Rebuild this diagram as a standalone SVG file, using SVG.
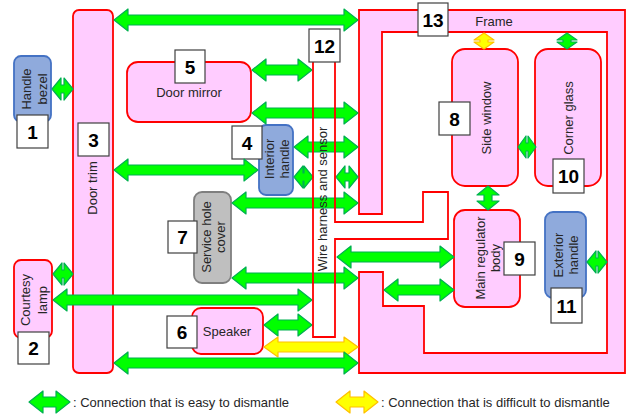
<svg xmlns="http://www.w3.org/2000/svg" width="627" height="416" viewBox="0 0 627 416">
<style>
.pk{fill:#FFCCFF;stroke:#FF0000;stroke-width:1.8}
.bl{fill:#8FAADC;stroke:#4472C4;stroke-width:1.8}
.gy{fill:#BFBFBF;stroke:#7F7F7F;stroke-width:1.8}
.wh{fill:none;stroke:#FF0000;stroke-width:1.8}
.nb{fill:#FFFFFF;stroke:#404040;stroke-width:1.2}
.nt{font-family:"Liberation Sans",Arial,sans-serif;font-size:19px;font-weight:bold;fill:#000;text-anchor:middle}
.lb{font-family:"Liberation Sans",Arial,sans-serif;font-size:13px;fill:#262626;text-anchor:middle}
.lg{font-family:"Liberation Sans",Arial,sans-serif;font-size:13px;fill:#262626}
.ea{fill:#00FF00;stroke:#00B050;stroke-width:1.2;stroke-linejoin:round}
.hd{fill:#FFFF00;stroke:#FFC000;stroke-width:1.2;stroke-linejoin:round}
</style>
<rect width="627" height="416" fill="#FFFFFF"/>

<g id="n13-frame">
<polygon class="pk" points="359,10 625,10 625,373 359,373 359,272 383,272 383,306 424,306 424,353 607,353 607,32 382,32 382,214 359,214"/>
<text class="lb" x="494" y="26">Frame</text>
<rect class="nb" x="418" y="3" width="30" height="33"/>
<text class="nt" x="433" y="26.5">13</text>
</g>

<g id="n3-door-trim">
<rect class="pk" x="73" y="10" width="40" height="363" rx="6"/>
<text class="lb" x="97" y="188" transform="rotate(-90 97 188)">Door trim</text>
<rect class="nb" x="78" y="123" width="31" height="33"/>
<text class="nt" x="93.5" y="146.5">3</text>
</g>

<g id="n1-handle-bezel">
<rect class="bl" x="14" y="56" width="37" height="66" rx="7"/>
<text class="lb" x="31" y="89" transform="rotate(-90 31 89)">Handle</text>
<text class="lb" x="47" y="89" transform="rotate(-90 47 89)">bezel</text>
<rect class="nb" x="17" y="115" width="31" height="33"/>
<text class="nt" x="32.5" y="138.5">1</text>
</g>

<g id="n2-courtesy-lamp">
<rect class="pk" x="14" y="260" width="38" height="78" rx="7"/>
<text class="lb" x="30" y="300" transform="rotate(-90 30 300)">Courtesy</text>
<text class="lb" x="47" y="300" transform="rotate(-90 47 300)">lamp</text>
<rect class="nb" x="18" y="332" width="31" height="32"/>
<text class="nt" x="33.5" y="355">2</text>
</g>

<g id="n5-door-mirror">
<rect class="pk" x="127" y="62" width="124" height="60" rx="11"/>
<text class="lb" x="189" y="96.5">Door mirror</text>
<rect class="nb" x="175" y="50" width="30" height="33"/>
<text class="nt" x="190" y="73.5">5</text>
</g>

<g id="n4-interior-handle">
<rect class="bl" x="259" y="125" width="34" height="70" rx="7"/>
<text class="lb" x="273.5" y="159" transform="rotate(-90 273.5 159)">Interior</text>
<text class="lb" x="289" y="159" transform="rotate(-90 289 159)">handle</text>
<rect class="nb" x="232" y="126" width="30" height="33"/>
<text class="nt" x="247" y="149.5">4</text>
</g>

<g id="n7-service-hole-cover">
<rect class="gy" x="194" y="192" width="37" height="91" rx="8"/>
<text class="lb" x="210.5" y="237" transform="rotate(-90 210.5 237)">Service hole</text>
<text class="lb" x="225" y="237" transform="rotate(-90 225 237)">cover</text>
<rect class="nb" x="168" y="221" width="29" height="32"/>
<text class="nt" x="182.5" y="244">7</text>
</g>

<g id="n6-speaker">
<rect class="pk" x="192" y="308" width="71" height="46" rx="9"/>
<text class="lb" x="227" y="335.5">Speaker</text>
<rect class="nb" x="167" y="316" width="30" height="32"/>
<text class="nt" x="182" y="339">6</text>
</g>

<g id="n8-side-window">
<rect class="pk" x="452" y="49" width="66" height="137" rx="13"/>
<text class="lb" x="491" y="118" transform="rotate(-90 491 118)">Side window</text>
<rect class="nb" x="439" y="102" width="31" height="33"/>
<text class="nt" x="454.5" y="125.5">8</text>
</g>

<g id="n10-corner-glass">
<rect class="pk" x="535" y="49" width="66" height="137" rx="13"/>
<text class="lb" x="573" y="118" transform="rotate(-90 573 118)">Corner glass</text>
<rect class="nb" x="553" y="159" width="31" height="34"/>
<text class="nt" x="568.5" y="183">10</text>
</g>

<g id="n9-main-regulator-body">
<rect class="pk" x="454" y="210" width="66" height="97" rx="11"/>
<text class="lb" x="485" y="258" transform="rotate(-90 485 258)">Main regulator</text>
<text class="lb" x="499.5" y="258" transform="rotate(-90 499.5 258)">body</text>
<rect class="nb" x="504" y="242" width="31" height="33"/>
<text class="nt" x="519.5" y="265.5">9</text>
</g>

<g id="n11-exterior-handle">
<rect class="bl" x="545" y="212" width="41" height="86" rx="8"/>
<text class="lb" x="563" y="255" transform="rotate(-90 563 255)">Exterior</text>
<text class="lb" x="578" y="255" transform="rotate(-90 578 255)">handle</text>
<rect class="nb" x="551" y="288" width="31" height="35"/>
<text class="nt" x="566.5" y="312.5">11</text>
</g>

<g id="connectors">
<polygon class="ea" points="114,20 128,9 128,15 344,15 344,9 358,20 344,31 344,25 128,25 128,31"/>
<polygon class="ea" points="52,89 61,78 61,85 64,85 64,78 73,89 64,100 64,93 61,93 61,100"/>
<polygon class="ea" points="252,70 266,59 266,65 298,65 298,59 312,70 298,81 298,75 266,75 266,81"/>
<polygon class="ea" points="252,113 266,102 266,108 344,108 344,102 358,113 344,124 344,118 266,118 266,124"/>
<polygon class="ea" points="114,170 128,159 128,165 244,165 244,159 258,170 244,181 244,175 128,175 128,181"/>
<polygon class="ea" points="294,147 308,136 308,142 344,142 344,136 358,147 344,158 344,152 308,152 308,158"/>
<polygon class="ea" points="294,177 303,166 303,173 304,173 304,166 313,177 304,188 304,181 303,181 303,188"/>
<polygon class="ea" points="336,177 345,166 345,173 349,173 349,166 358,177 349,188 349,181 345,181 345,188"/>
<polygon class="ea" points="232,203 246,192 246,198 344,198 344,192 358,203 344,214 344,208 246,208 246,214"/>
<polygon class="ea" points="232,278 246,267 246,273 344,273 344,267 358,278 344,289 344,283 246,283 246,289"/>
<polygon class="ea" points="53,274 62,263 62,270 64,270 64,263 73,274 64,285 64,278 62,278 62,285"/>
<polygon class="ea" points="53,300 67,289 67,295 298,295 298,289 312,300 298,311 298,305 67,305 67,311"/>
<polygon class="ea" points="264,325 278,314 278,320 298,320 298,314 312,325 298,336 298,330 278,330 278,336"/>
<polygon class="hd" points="264,347 278,337 278,342 344,342 344,337 358,347 344,357 344,352 278,352 278,357"/>
<polygon class="ea" points="114,363 128,352 128,358 344,358 344,352 358,363 344,374 344,368 128,368 128,374"/>
<polygon class="ea" points="337,257 351,246 351,252 440,252 440,246 454,257 440,268 440,262 351,262 351,268"/>
<polygon class="ea" points="384,290 398,279 398,285 440,285 440,279 454,290 440,301 440,295 398,295 398,301"/>
<polygon class="ea" points="488,186 477,195 484,195 484,201 477,201 488,210 499,201 492,201 492,195 499,195"/>
<polygon class="hd" points="484,33 474,40 480,40 480,42 474,42 484,49 494,42 488,42 488,40 494,40"/>
<polygon class="ea" points="567,33 557,40 563,40 563,42 557,42 567,49 577,42 571,42 571,40 577,40"/>
<polygon class="ea" points="518,147 526,136 526,143 528,143 528,136 536,147 528,158 528,151 526,151 526,158"/>
<polygon class="ea" points="587,262 596,251 596,258 598,258 598,251 607,262 598,273 598,266 596,266 596,273"/>
</g>

<g id="n12-wire-harness">
<polygon class="wh" points="313,45 335,45 335,222 423,222 423,192 448,192 448,239 335,239 335,337 313,337"/>
<text class="lb" x="327" y="199" transform="rotate(-90 327 199)">Wire harness and sensor</text>
<rect class="nb" x="309" y="29" width="31" height="33"/>
<text class="nt" x="324.5" y="52.5">12</text>
</g>

<g id="legend">
<polygon class="ea" points="29,402 43,391 43,397 56,397 56,391 70,402 56,413 56,407 43,407 43,413"/>
<text class="lg" x="73" y="407">: Connection that is easy to dismantle</text>
<polygon class="hd" points="336,402 350,391 350,397 364,397 364,391 378,402 364,413 364,407 350,407 350,413"/>
<text class="lg" x="381" y="407">: Connection that is difficult to dismantle</text>
</g>
</svg>
